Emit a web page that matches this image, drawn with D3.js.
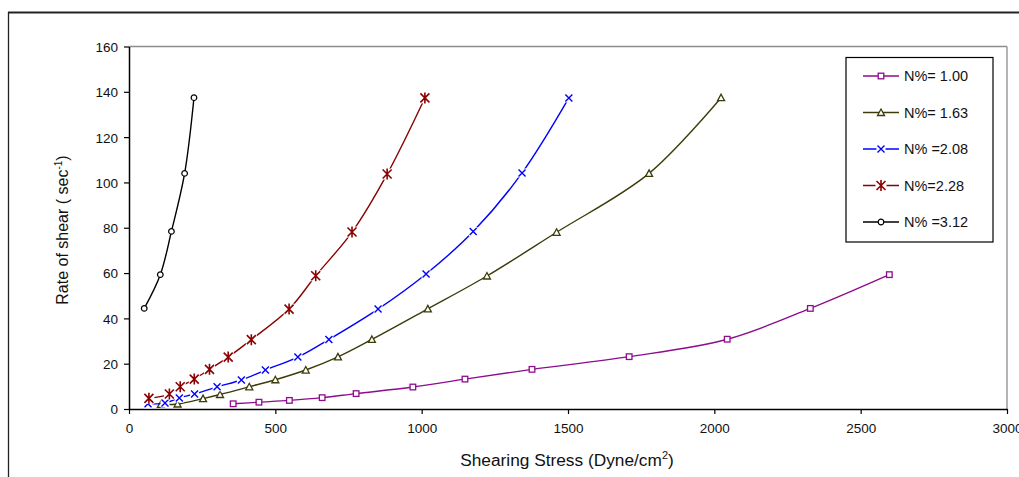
<!DOCTYPE html>
<html><head><meta charset="utf-8">
<script src="https://cdn.jsdelivr.net/npm/d3@7"></script>
<style>
html,body{margin:0;padding:0;background:#fff;}
svg{display:block;font-family:"Liberation Sans",Arial,sans-serif;}
</style></head>
<body>
<svg id="chart" width="1019" height="477"></svg>
<script>
// ---- data ----
const xTicks = [0, 500, 1000, 1500, 2000, 2500, 3000];
const yTicks = [0, 20, 40, 60, 80, 100, 120, 140, 160];
const seriesNames = ["N%= 1.00", "N%= 1.63", "N% =2.08", "N%=2.28", "N% =3.12"];

const stress100 = [356, 444, 548, 660, 776, 970, 1148, 1377, 1709, 2044, 2328, 2598];
const rate100   = [2.3, 3.0, 3.8, 5.0, 6.8, 9.7, 13.2, 17.5, 23.1, 30.8, 44.4, 59.3];

const stress163 = [109, 166, 253, 311, 411, 500, 604, 714, 830, 1021, 1223, 1461, 1777, 2023];
const rate163   = [2.0, 2.2, 4.6, 6.4, 9.8, 12.9, 17.2, 23.0, 30.7, 44.2, 58.7, 78.0, 104, 137.4];

const stress208 = [65, 123, 172, 224, 301, 384, 466, 577, 683, 851, 1015, 1176, 1343, 1503];
const rate208   = [2.3, 2.6, 4.9, 6.6, 9.8, 12.8, 17.2, 22.9, 30.7, 44.1, 59.6, 78.3, 104.2, 137.3];

const stress228 = [68, 138, 175, 223, 275, 339, 418, 547, 638, 762, 882, 1011];
const rate228   = [4.7, 6.6, 9.8, 13.2, 17.5, 22.9, 30.6, 44.1, 58.8, 78.1, 103.7, 137.3];

const stress312 = [52, 107, 145, 190, 222];
const rate312   = [44.4, 59.3, 78.4, 104, 137.4];

const series = [
  {name: seriesNames[0], xs: stress100, ys: rate100, color: "#8E0C8E", marker: "square"},
  {name: seriesNames[1], xs: stress163, ys: rate163, color: "#3C3C0A", marker: "triangle"},
  {name: seriesNames[2], xs: stress208, ys: rate208, color: "#0000FF", marker: "x"},
  {name: seriesNames[3], xs: stress228, ys: rate228, color: "#8B0000", marker: "star"},
  {name: seriesNames[4], xs: stress312, ys: rate312, color: "#000000", marker: "circle"}
];

// ---- layout ----
const svg = d3.select("#chart");
const L = 129, R = 1007, T = 46.5, B = 409;
const x = d3.scaleLinear().domain([0, 3000]).range([L, R]);
const y = d3.scaleLinear().domain([0, 160]).range([B, T]);

// outer frame
svg.append("line").attr("x1", 8).attr("x2", 1019).attr("y1", 12.5).attr("y2", 12.5)
  .attr("stroke", "#222").attr("stroke-width", 2);
svg.append("line").attr("x1", 8.5).attr("x2", 8.5).attr("y1", 12).attr("y2", 477)
  .attr("stroke", "#222").attr("stroke-width", 1.3);

// plot area border (top/right)
svg.append("line").attr("x1", L).attr("x2", R).attr("y1", T).attr("y2", T)
  .attr("stroke", "#8c8c8c").attr("stroke-width", 1.3);
svg.append("line").attr("x1", R).attr("x2", R).attr("y1", T).attr("y2", B)
  .attr("stroke", "#8c8c8c").attr("stroke-width", 1.3);

// axes
const gx = svg.append("g").attr("transform", `translate(0,${B})`)
  .call(d3.axisBottom(x).tickValues(xTicks).tickSize(5).tickSizeOuter(0).tickFormat(d3.format("d")));
const gy = svg.append("g").attr("transform", `translate(${L},0)`)
  .call(d3.axisLeft(y).tickValues(yTicks).tickSize(5).tickSizeOuter(0).tickFormat(d3.format("d")));
[gx, gy].forEach(g => {
  g.select(".domain").attr("stroke", "#000").attr("stroke-width", 1.5);
  g.selectAll(".tick line").attr("stroke", "#000").attr("stroke-width", 1.2);
  g.selectAll(".tick text").attr("fill", "#111").style("font-size", "13.5px")
   .style("font-family", "'Liberation Sans', Arial, sans-serif");
});
gx.selectAll(".tick text").attr("dy", null).attr("y", 24);
gy.selectAll(".tick text").attr("x", -11).attr("dy", "0.36em");

// axis titles
const xt = svg.append("text").attr("x", 567).attr("y", 466).attr("text-anchor", "middle")
  .style("font-size", "17.3px").attr("fill", "#111");
xt.append("tspan").text("Shearing Stress (Dyne/cm");
xt.append("tspan").attr("dy", -7).style("font-size", "11px").text("2");
xt.append("tspan").attr("dy", 7).text(")");

const yt = svg.append("text").attr("transform", "translate(68,230) rotate(-90)")
  .attr("text-anchor", "middle").style("font-size", "16px").attr("fill", "#111");
yt.append("tspan").text("Rate of shear ( sec");
yt.append("tspan").attr("dy", -6).style("font-size", "10px").text("-1");
yt.append("tspan").attr("dy", 6).text(")");

// marker drawing
function drawMarker(g, type, color) {
  if (type === "square") {
    g.append("rect").attr("x", -2.8).attr("y", -2.8).attr("width", 5.6).attr("height", 5.6)
      .attr("fill", "#fff").attr("stroke", color).attr("stroke-width", 1.3);
  } else if (type === "triangle") {
    g.append("path").attr("d", "M0,-3.5L3.5,3L-3.5,3Z")
      .attr("fill", "#fff").attr("stroke", color).attr("stroke-width", 1.3);
  } else if (type === "circle") {
    g.append("circle").attr("r", 2.8).attr("fill", "#fff").attr("stroke", color).attr("stroke-width", 1.2);
  } else if (type === "x") {
    g.append("rect").attr("x", -4.5).attr("y", -4.5).attr("width", 9).attr("height", 9).attr("fill", "#fff");
    g.append("path").attr("d", "M-3.5,-3.5L3.5,3.5M-3.5,3.5L3.5,-3.5")
      .attr("stroke", color).attr("stroke-width", 1.4).attr("fill", "none");
  } else if (type === "star") {
    g.append("rect").attr("x", -5.5).attr("y", -5.5).attr("width", 11).attr("height", 11).attr("fill", "#fff");
    g.append("path").attr("d", "M-4.5,-4.5L4.5,4.5M-4.5,4.5L4.5,-4.5M0,-5.5L0,5.5")
      .attr("stroke", color).attr("stroke-width", 1.6).attr("fill", "none");
  }
}

const line = d3.line().x(d => x(d[0])).y(d => y(d[1])).curve(d3.curveCatmullRom.alpha(0.5));

series.forEach(s => {
  const pts = s.xs.map((v, i) => [v, s.ys[i]]);
  const g = svg.append("g");
  g.append("path").datum(pts).attr("d", line).attr("fill", "none")
    .attr("stroke", s.color).attr("stroke-width", 1.4);
  pts.forEach(p => {
    const mg = g.append("g").attr("transform", `translate(${x(p[0])},${y(p[1])})`);
    drawMarker(mg, s.marker, s.color);
  });
});

// legend
const lg = svg.append("g");
lg.append("rect").attr("x", 846).attr("y", 57.5).attr("width", 147).attr("height", 184.5)
  .attr("fill", "#fff").attr("stroke", "#000").attr("stroke-width", 1.2);
const legY = d3.scalePoint().domain(seriesNames).range([76, 222]);
series.forEach(s => {
  const cy = legY(s.name);
  lg.append("line").attr("x1", 863).attr("x2", 899).attr("y1", cy).attr("y2", cy)
    .attr("stroke", s.color).attr("stroke-width", 1.4);
  const mg = lg.append("g").attr("transform", `translate(881,${cy})`);
  drawMarker(mg, s.marker, s.color);
  lg.append("text").attr("x", 904).attr("y", cy).attr("dy", "0.36em")
    .style("font-size", "14.5px").attr("fill", "#111").text(s.name);
});
</script>
</body></html>
